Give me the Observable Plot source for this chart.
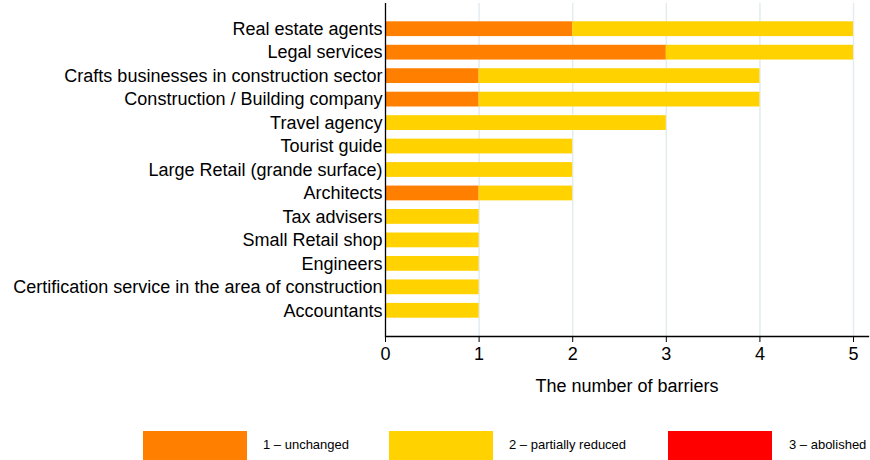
<!DOCTYPE html>
<html>
<head>
<meta charset="utf-8">
<script src="https://cdn.jsdelivr.net/npm/d3@7"></script>
<script src="https://cdn.jsdelivr.net/npm/@observablehq/plot@0.6"></script>
<style>
  body { margin: 0; background: #fff; font-family: "Liberation Sans", Arial, sans-serif; }
  #wrap { position: relative; width: 870px; height: 460px; overflow: hidden; }
  .lg-sw { position: absolute; top: 431px; width: 104px; height: 29px; }
  .lg-tx { position: absolute; top: 437px; font-family: "Liberation Sans Narrow", "Arial Narrow", "Liberation Sans", Arial, sans-serif; font-size: 13px; color: #000; white-space: nowrap; }
</style>
</head>
<body>
<div id="wrap"></div>
<script>
const categories = [
  "Real estate agents",
  "Legal services",
  "Crafts businesses in construction sector",
  "Construction / Building company",
  "Travel agency",
  "Tourist guide",
  "Large Retail (grande surface)",
  "Architects",
  "Tax advisers",
  "Small Retail shop",
  "Engineers",
  "Certification service in the area of construction",
  "Accountants"
];
const statuses = ["1 \u2013 unchanged", "2 \u2013 partially reduced", "3 \u2013 abolished"];
const colors = ["#FF7F00", "#FFD200", "#FF0000"];
const unchanged = [2, 3, 1, 1, 0, 0, 0, 1, 0, 0, 0, 0, 0];
const partiallyReduced = [3, 2, 3, 3, 3, 2, 2, 1, 1, 1, 1, 1, 1];
const abolished = [0, 0, 0, 0, 0, 0, 0, 0, 0, 0, 0, 0, 0];
const xTicks = [0, 1, 2, 3, 4, 5];

const series = [unchanged, partiallyReduced, abolished];
const data = [];
categories.forEach((c, i) => {
  series.forEach((s, k) => {
    data.push({category: c, status: statuses[k], order: k, value: s[i]});
  });
});

const chart = Plot.plot({
  width: 870,
  height: 425,
  marginLeft: 385,
  marginRight: 2,
  marginTop: 3,
  marginBottom: 89,
  style: {fontFamily: "'Liberation Sans', Arial, sans-serif", fontSize: "18px", color: "#000", background: "#fff"},
  x: {domain: [0, 5.16]},
  y: {domain: categories, paddingInner: 0.37, paddingOuter: 0.78, round: false},
  color: {domain: statuses, range: colors},
  marks: [
    Plot.gridX(xTicks.slice(1), {stroke: "#e3ecef", strokeOpacity: 1, strokeWidth: 1.5}),
    Plot.barX(data, Plot.stackX({x: "value", y: "category", fill: "status", order: "order", inset: 0})),
    Plot.ruleX([0], {stroke: "#000", strokeWidth: 1.3}),
    Plot.frame({anchor: "bottom", stroke: "#000", strokeWidth: 1.3}),
    Plot.axisX(xTicks, {anchor: "bottom", tickSize: 6, tickPadding: 5, fontSize: 18, label: "The number of barriers", labelAnchor: "center", labelOffset: 55, labelArrow: "none", tickFormat: d => String(d)}),
    Plot.axisY({tickSize: 0, tickPadding: 3, fontSize: 18, label: null})
  ]
});
const wrap = document.getElementById("wrap");
wrap.appendChild(chart);

const swX = [143, 389, 668];
const txX = [263, 509, 789];
statuses.forEach((s, k) => {
  const sw = document.createElement("div");
  sw.className = "lg-sw";
  sw.style.left = swX[k] + "px";
  sw.style.background = colors[k];
  wrap.appendChild(sw);
  const tx = document.createElement("div");
  tx.className = "lg-tx";
  tx.style.left = txX[k] + "px";
  tx.textContent = s;
  wrap.appendChild(tx);
});
</script>
</body>
</html>
